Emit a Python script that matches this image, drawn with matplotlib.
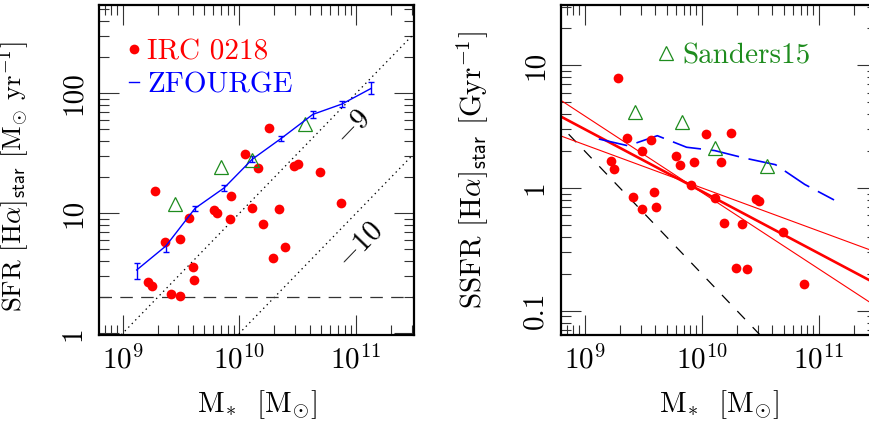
import numpy as np
import matplotlib
matplotlib.use('Agg')
import matplotlib.pyplot as plt
from matplotlib.ticker import LogLocator, FixedLocator, FixedFormatter, NullFormatter

plt.rcParams['font.family'] = 'cmr10'
plt.rcParams['mathtext.fontset'] = 'cm'
plt.rcParams['axes.unicode_minus'] = False
plt.rcParams['axes.formatter.use_mathtext'] = True
plt.rcParams['lines.scale_dashes'] = False

RED = '#ff0000'
BLUE = '#0000ff'
GREEN = '#1e8c1e'
FS = 21

# IRC 0218 galaxies, left panel (log M*, SFR)
irc_logm = [10.25, 10.05, 10.16, 10.47, 10.50, 10.69, 9.28, 9.93, 9.78, 9.81,
            10.11, 10.34, 10.87, 9.57, 9.92, 10.20, 9.36, 9.49, 9.60, 9.61,
            10.39, 10.29, 9.22, 9.25, 9.41, 9.49]
irc_sfr = [51.7, 31.2, 23.7, 24.8, 25.6, 22.0, 15.3, 14.0, 10.7, 10.1,
           11.0, 10.9, 12.2, 9.2, 8.9, 8.1, 5.8, 6.1, 3.55, 2.78,
           5.27, 4.27, 2.69, 2.48, 2.13, 2.05]

# IRC 0218 galaxies, right panel (log M*, SSFR in Gyr^-1)
irc_logm_r = [9.28, 9.36, 9.57, 9.49, 9.22, 9.25, 9.78, 9.81, 9.93, 10.04,
              10.25, 10.16, 9.91, 10.11, 10.46, 10.49, 9.41, 9.59, 9.49, 9.61,
              10.19, 10.34, 10.69, 10.29, 10.39, 10.87]
irc_ssfr = [7.9, 2.56, 2.47, 2.02, 1.67, 1.43, 1.82, 1.55, 1.64, 2.76,
            2.81, 1.63, 1.06, 0.836, 0.82, 0.79, 0.84, 0.92, 0.68, 0.695,
            0.515, 0.508, 0.44, 0.225, 0.218, 0.165]

# ZFOURGE main sequence
zf_logm = [9.12, 9.37, 9.62, 9.87, 10.11, 10.36, 10.63, 10.88, 11.13]
zf_sfr = [3.37, 5.34, 11.0, 16.3, 28.2, 42.2, 66.8, 81.5, 110.0]
zf_sfr_lo = [2.82, 4.79, 10.4, 15.4, 26.6, 40.0, 62.7, 76.5, 98.0]
zf_sfr_hi = [3.83, 5.69, 11.6, 17.3, 29.9, 44.5, 71.1, 86.8, 125.0]
zf_ssfr = [2.51, 2.21, 2.67, 2.15, 2.02, 1.76, 1.55, 1.07, 0.80]

# Sanders15
s15_logm = [9.45, 9.84, 10.11, 10.56]
s15_sfr = [11.9, 24.4, 27.8, 55.5]
s15_logm_r = [9.43, 9.83, 10.11, 10.56]
s15_ssfr = [4.15, 3.44, 2.12, 1.52]

# reference lines
sfr_limit = 2.0
iso_ssfr = [1e-9, 1e-10]
iso_labels = ['$-9$', '$-10$']
line_logm = [8.6, 11.7]

# fits in the SSFR panel (end points)
fit_logm = [8.79, 11.5]
fit_best = [3.85, 0.164]
fit_steep = [5.23, 0.107]
fit_flat = [2.67, 0.298]

xlim = (10**8.797, 10**11.497)


def style_axes(ax, yticks, ylabels):
    ax.set_xscale('log')
    ax.set_yscale('log')
    ax.set_xlim(*xlim)
    ax.xaxis.set_major_locator(LogLocator(base=10))
    ax.xaxis.set_minor_locator(LogLocator(base=10, subs=np.arange(2, 10)))
    ax.xaxis.set_minor_formatter(NullFormatter())
    ax.yaxis.set_major_locator(FixedLocator(yticks))
    ax.yaxis.set_major_formatter(FixedFormatter(ylabels))
    ax.yaxis.set_minor_locator(LogLocator(base=10, subs=np.arange(2, 10)))
    ax.yaxis.set_minor_formatter(NullFormatter())
    ax.tick_params(which='both', direction='in', top=True, right=True,
                   width=0.8, color='#333333', labelsize=FS)
    ax.tick_params(which='major', length=14.4)
    ax.tick_params(which='minor', length=7.2)
    ax.tick_params(axis='x', pad=7)
    ax.tick_params(axis='y', labelrotation=90, pad=9)
    for lab in ax.get_yticklabels():
        lab.set_va('center')
    for sp in ax.spines.values():
        sp.set_linewidth(1.6)
    ax.set_xlabel(r'M$_{\ast}$  [M$_{\odot}$]', fontsize=FS)
    ax.xaxis.set_label_coords(0.5, -0.16)


fig = plt.figure(figsize=(8.7, 4.26), dpi=100)
ax1 = fig.add_axes([99 / 870, 91 / 426, 315 / 870, 330 / 426])
ax2 = fig.add_axes([561 / 870, 91 / 426, 316 / 870, 330 / 426])

# ---- left: SFR vs M*
lm = 10 ** np.array(line_logm)
for s in iso_ssfr:
    ax1.plot(lm, s * lm, color='k', lw=0.9, ls=(0, (1, 2.6)))
ax1.axhline(sfr_limit, color='#333333', lw=0.9, ls=(0, (9, 6)))

zf_m = 10 ** np.array(zf_logm)
zf = np.array(zf_sfr)
yerr = [zf - np.array(zf_sfr_lo), np.array(zf_sfr_hi) - zf]
eb = ax1.errorbar(zf_m, zf, yerr=yerr, color=BLUE, lw=1.0, capsize=2.5,
                  elinewidth=1.0, capthick=1.0, label='ZFOURGE')
h_irc, = ax1.plot(10 ** np.array(irc_logm), irc_sfr, 'o', color=RED, ms=7,
                  mec='none', label='IRC 0218')
ax1.plot(10 ** np.array(s15_logm), s15_sfr, '^', mfc='none', mec=GREEN,
         ms=10, mew=0.9)

ax1.text(10**10.98, 10**1.715, iso_labels[0], fontsize=FS, rotation=46,
         ha='center', va='center', rotation_mode='anchor')
ax1.text(10**11.04, 10**0.736, iso_labels[1], fontsize=FS, rotation=46,
         ha='center', va='center', rotation_mode='anchor')

ax1.set_ylim(0.968, 545)
style_axes(ax1, [1, 10, 100], ['1', '10', '100'])
ax1.set_ylabel(r'SFR [H$\alpha$]$_{\mathsf{star}}$ [M$_{\odot}$ yr$^{-1}$]',
               fontsize=19.3)
ax1.yaxis.set_label_coords(-0.212, 0.48)
ax1.legend(handles=[h_irc, eb.lines[0]], labels=['IRC 0218', 'ZFOURGE'],
           loc='upper left', bbox_to_anchor=(0.095, 0.897), frameon=False,
           handlelength=0.33, handletextpad=0.3, labelspacing=0.22,
           borderpad=0, borderaxespad=0, labelcolor='linecolor',
           fontsize=FS, numpoints=1)

# ---- right: SSFR vs M*
ax2.plot(lm, sfr_limit * 1e9 / lm, color='k', lw=0.9, ls=(0, (8, 8)))
fm = 10 ** np.array(fit_logm)
ax2.plot(fm, fit_steep, color=RED, lw=0.8)
ax2.plot(fm, fit_flat, color=RED, lw=0.8)
ax2.plot(fm, fit_best, color=RED, lw=1.9)
ax2.plot(zf_m, zf_ssfr, color=BLUE, lw=1.2, ls=(0, (21, 7)))
ax2.plot(10 ** np.array(irc_logm_r), irc_ssfr, 'o', color=RED, ms=7,
         mec='none')
h_s15, = ax2.plot(10 ** np.array(s15_logm_r), s15_ssfr, '^', mfc='none',
                  mec=GREEN, ms=10, mew=0.9, ls='none')

ax2.set_ylim(0.0635, 31.0)
style_axes(ax2, [0.1, 1, 10], ['0.1', '1', '10'])
ax2.set_ylabel(r'SSFR [H$\alpha$]$_{\mathsf{star}}$ [Gyr$^{-1}$]',
               fontsize=FS)
ax2.yaxis.set_label_coords(-0.225, 0.5)
ax2.legend(handles=[h_s15], labels=['Sanders15'], loc='upper left',
           bbox_to_anchor=(0.31, 0.886), frameon=False, handlelength=0.5,
           handletextpad=0.3, borderpad=0, borderaxespad=0,
           labelcolor=GREEN, fontsize=FS, numpoints=1)

fig.savefig('out.png', dpi=100)
